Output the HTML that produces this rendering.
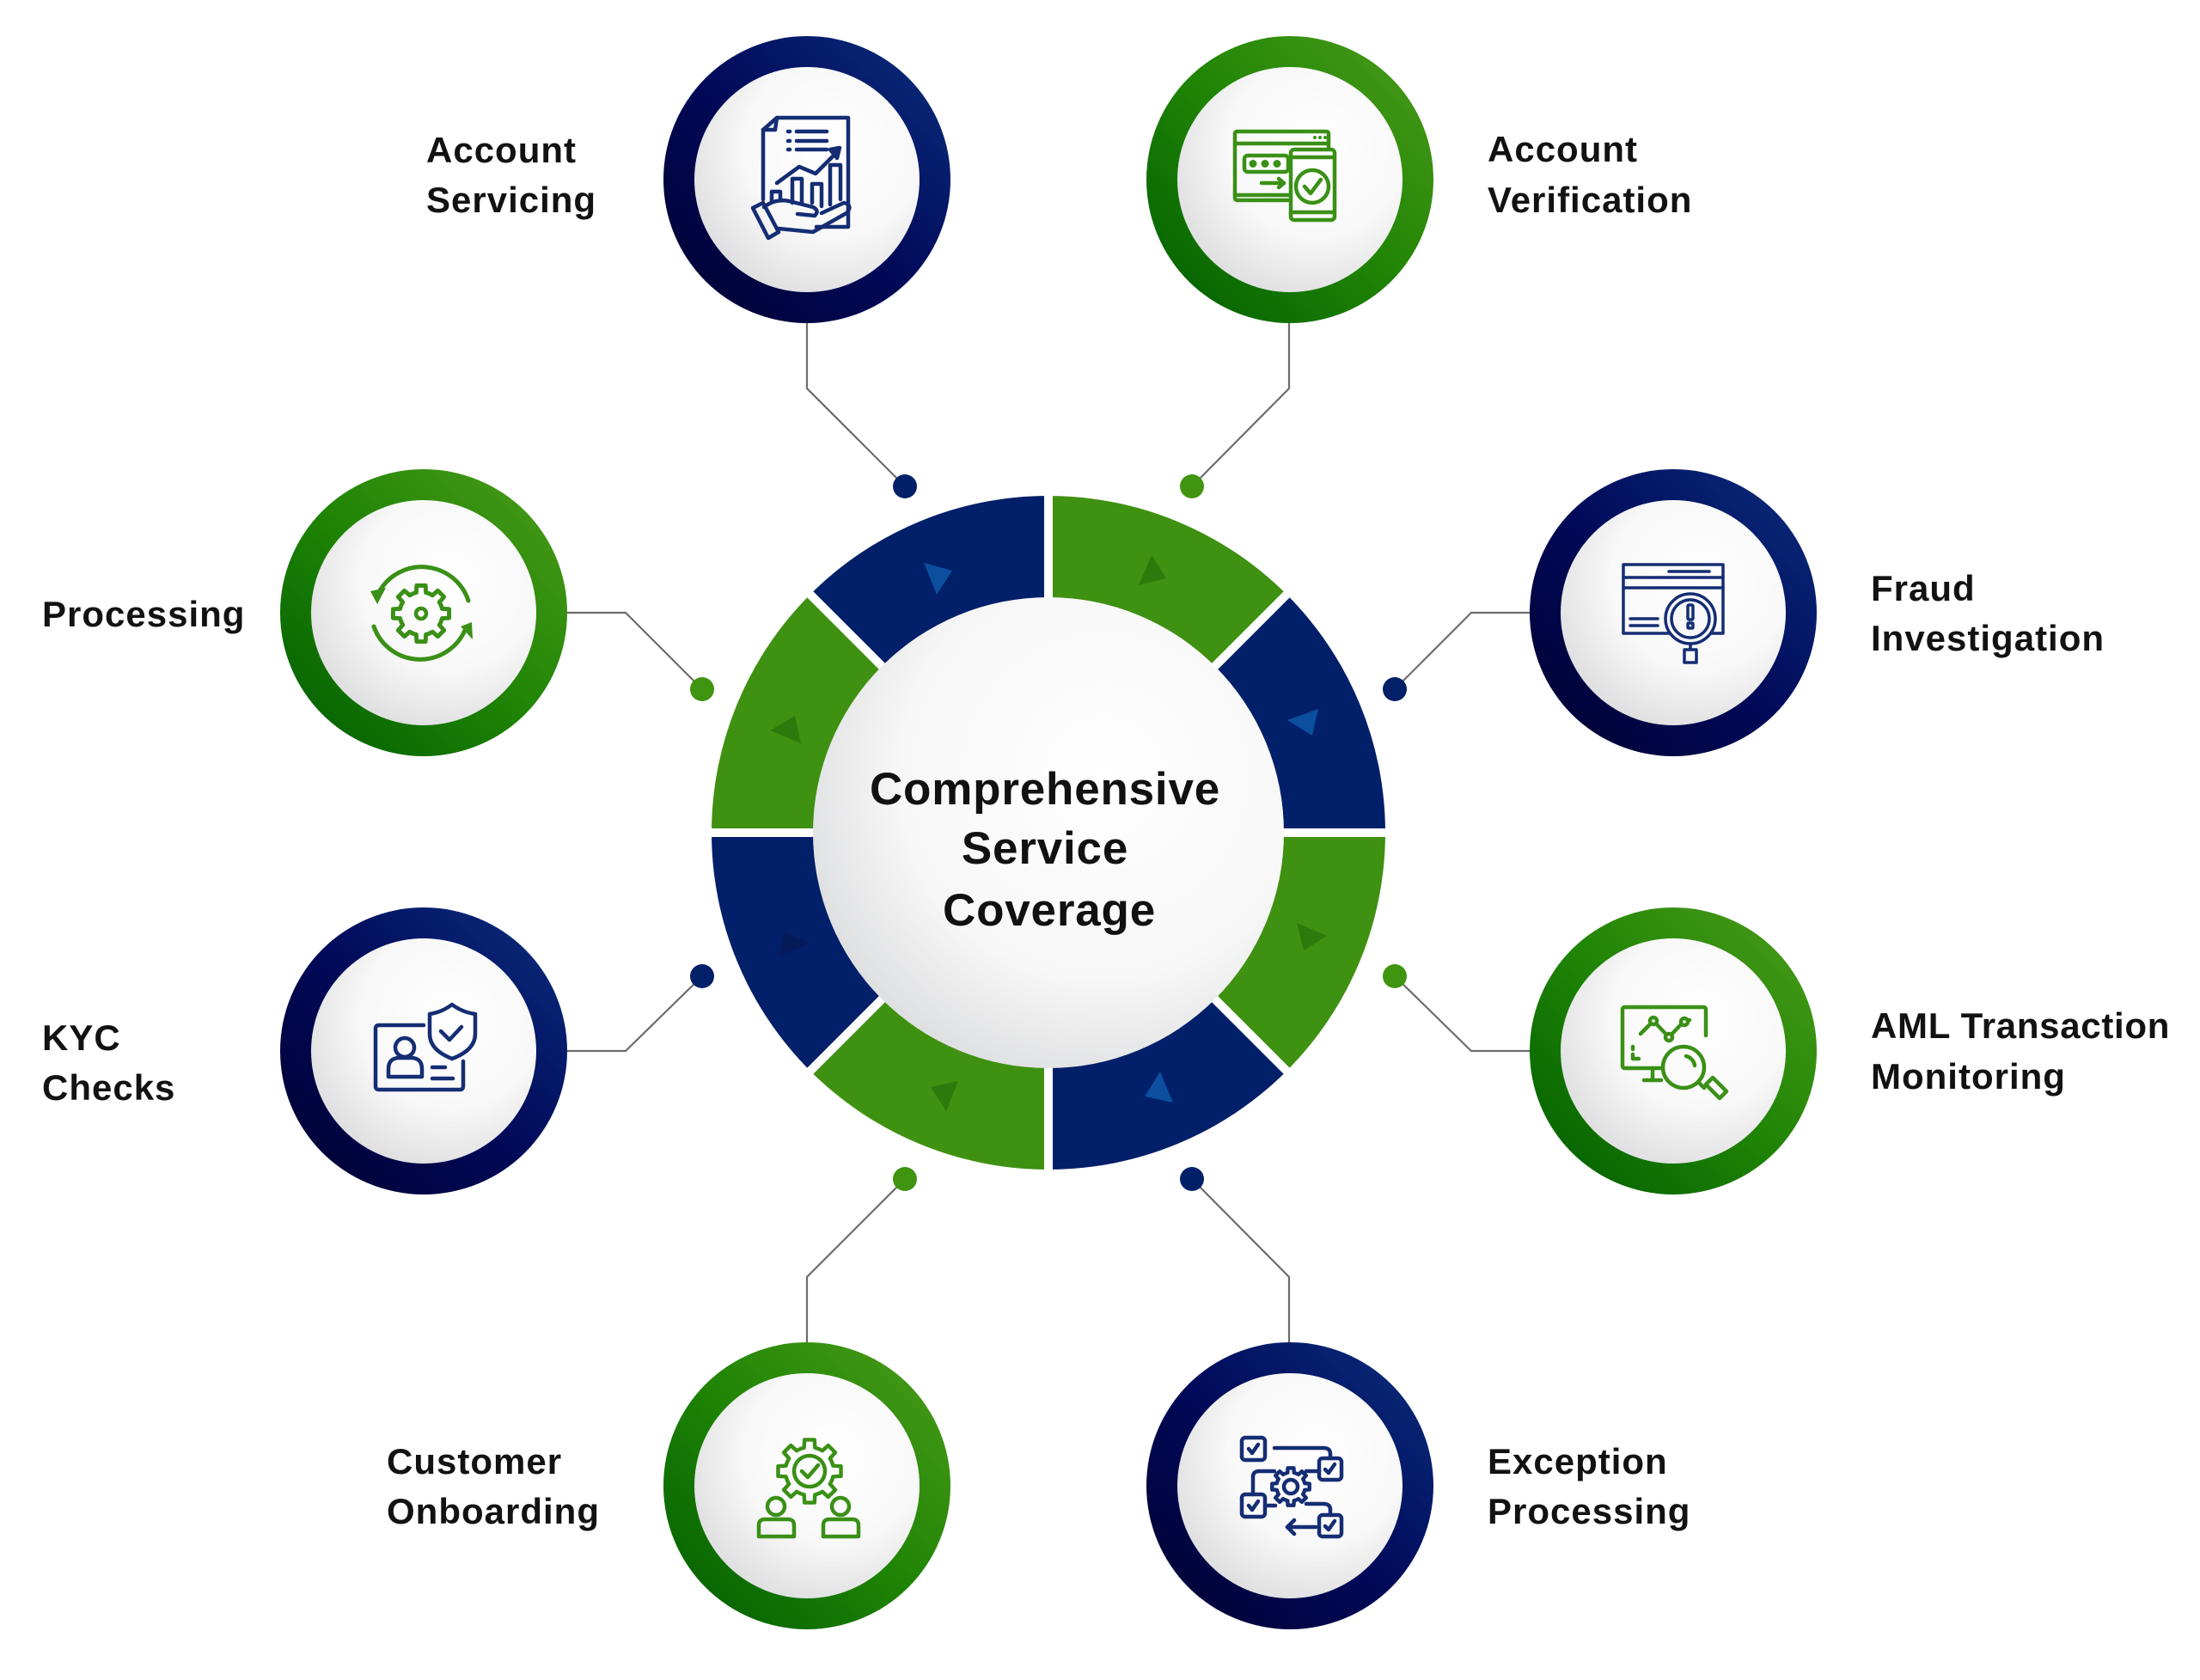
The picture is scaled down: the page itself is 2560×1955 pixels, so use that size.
<!DOCTYPE html>
<html>
<head>
<meta charset="utf-8">
<style>
  html, body { margin: 0; padding: 0; background: #ffffff; }
  body { width: 2560px; height: 1955px; overflow: hidden; }
  svg { display: block; }
  .lbl { font-family: "Liberation Sans", Arial, sans-serif; font-weight: 700; font-size: 42px; fill: #121212; letter-spacing: 1px; }
  .ctr { font-family: "Liberation Sans", Arial, sans-serif; font-weight: 700; font-size: 53px; fill: #111111; letter-spacing: 0.8px; }
</style>
</head>
<body>
<svg width="2560" height="1955" viewBox="0 0 2560 1955" xmlns="http://www.w3.org/2000/svg">
  <defs>
    <linearGradient id="navyRing" x1="0" y1="1" x2="1" y2="0">
      <stop offset="0" stop-color="#00002e"/>
      <stop offset="0.5" stop-color="#010a5a"/>
      <stop offset="1" stop-color="#0b2f7e"/>
    </linearGradient>
    <linearGradient id="greenRing" x1="0" y1="1" x2="1" y2="0">
      <stop offset="0" stop-color="#005c00"/>
      <stop offset="0.5" stop-color="#1f8405"/>
      <stop offset="1" stop-color="#4d9c1a"/>
    </linearGradient>
    <radialGradient id="disc" cx="0.62" cy="0.36" r="0.72">
      <stop offset="0" stop-color="#ffffff"/>
      <stop offset="0.55" stop-color="#f8f8f8"/>
      <stop offset="1" stop-color="#dcdcde"/>
    </radialGradient>
    <radialGradient id="bigDisc" cx="0.62" cy="0.38" r="0.72">
      <stop offset="0" stop-color="#ffffff"/>
      <stop offset="0.6" stop-color="#f7f7f7"/>
      <stop offset="1" stop-color="#d9dadc"/>
    </radialGradient>
  </defs>

  <!-- connectors -->
  <g fill="none" stroke="#6d6d6d" stroke-width="2.2">
    <polyline points="939,375 939,452 1053,566"/>
    <polyline points="1500,375 1500,452 1387,566"/>
    <polyline points="660,713 728,713 817,802"/>
    <polyline points="1780,713 1712,713 1623,802"/>
    <polyline points="660,1223 728,1223 817,1136"/>
    <polyline points="1780,1223 1712,1223 1623,1136"/>
    <polyline points="939,1563 939,1486 1053,1372"/>
    <polyline points="1500,1563 1500,1486 1387,1372"/>
  </g>
  <circle cx="1053" cy="566" r="14" fill="#022068"/>
  <circle cx="1387" cy="566" r="14" fill="#3f9410"/>
  <circle cx="817" cy="802" r="14" fill="#3f9410"/>
  <circle cx="1623" cy="802" r="14" fill="#022068"/>
  <circle cx="817" cy="1136" r="14" fill="#022068"/>
  <circle cx="1623" cy="1136" r="14" fill="#3f9410"/>
  <circle cx="1053" cy="1372" r="14" fill="#3f9410"/>
  <circle cx="1387" cy="1372" r="14" fill="#022068"/>

  <!-- central ring segments -->
  <g>
    <!-- top-right green -90..-45 -->
    <path d="M1220 577 A392 392 0 0 1 1497.19 691.81 L1412.33 776.67 A272 272 0 0 0 1220 697 Z" fill="#3f9111"/>
    <!-- right-upper navy -45..0 -->
    <path d="M1497.19 691.81 A392 392 0 0 1 1612 969 L1492 969 A272 272 0 0 0 1412.33 776.67 Z" fill="#021f69"/>
    <!-- right-lower green 0..45 -->
    <path d="M1612 969 A392 392 0 0 1 1497.19 1246.19 L1412.33 1161.33 A272 272 0 0 0 1492 969 Z" fill="#3f9111"/>
    <!-- bottom-right navy 45..90 -->
    <path d="M1497.19 1246.19 A392 392 0 0 1 1220 1361 L1220 1241 A272 272 0 0 0 1412.33 1161.33 Z" fill="#021f69"/>
    <!-- bottom-left green 90..135 -->
    <path d="M1220 1361 A392 392 0 0 1 942.81 1246.19 L1027.67 1161.33 A272 272 0 0 0 1220 1241 Z" fill="#3f9111"/>
    <!-- left-lower navy 135..180 -->
    <path d="M942.81 1246.19 A392 392 0 0 1 828 969 L948 969 A272 272 0 0 0 1027.67 1161.33 Z" fill="#021f69"/>
    <!-- left-upper green 180..225 -->
    <path d="M828 969 A392 392 0 0 1 942.81 691.81 L1027.67 776.67 A272 272 0 0 0 948 969 Z" fill="#3f9111"/>
    <!-- top-left navy 225..270 -->
    <path d="M942.81 691.81 A392 392 0 0 1 1220 577 L1220 697 A272 272 0 0 0 1027.67 776.67 Z" fill="#021f69"/>
  </g>
  <!-- white gaps -->
  <g stroke="#ffffff" stroke-width="10">
    <line x1="1220" y1="560" x2="1220" y2="1378"/>
    <line x1="810" y1="969" x2="1630" y2="969"/>
    <line x1="920" y1="669" x2="1520" y2="1269"/>
    <line x1="920" y1="1269" x2="1520" y2="669"/>
  </g>
  <!-- segment triangles -->
  <polygon points="1075,655 1108,664 1090,692" fill="#0b4f9e"/>
  <polygon points="1340,646 1357,673 1325,681" fill="#2d7a0c"/>
  <polygon points="1534,825 1527,856 1498,838" fill="#0b4f9e"/>
  <polygon points="1509,1074 1544,1089 1517,1106" fill="#2d7a0c"/>
  <polygon points="1350,1247 1365,1283 1332,1276" fill="#0b4f9e"/>
  <polygon points="1083,1265 1115,1258 1101,1293" fill="#2d7a0c"/>
  <polygon points="907,1112 913,1084 942,1098" fill="#061a58"/>
  <polygon points="896,850 925,833 932,865" fill="#2d7a0c"/>

  <!-- inner center disc -->
  <circle cx="1220" cy="969" r="274" fill="url(#bigDisc)"/>
  <text class="ctr" x="1216" y="936" text-anchor="middle">Comprehensive</text>
  <text class="ctr" x="1216" y="1005" text-anchor="middle">Service</text>
  <text class="ctr" x="1221" y="1077" text-anchor="middle">Coverage</text>

  <!-- satellite circles -->
  <circle cx="939" cy="209" r="167" fill="url(#navyRing)"/>
  <circle cx="939" cy="209" r="131" fill="url(#disc)"/>
  <circle cx="1501" cy="209" r="167" fill="url(#greenRing)"/>
  <circle cx="1501" cy="209" r="131" fill="url(#disc)"/>
  <circle cx="493" cy="713" r="167" fill="url(#greenRing)"/>
  <circle cx="493" cy="713" r="131" fill="url(#disc)"/>
  <circle cx="1947" cy="713" r="167" fill="url(#navyRing)"/>
  <circle cx="1947" cy="713" r="131" fill="url(#disc)"/>
  <circle cx="493" cy="1223" r="167" fill="url(#navyRing)"/>
  <circle cx="493" cy="1223" r="131" fill="url(#disc)"/>
  <circle cx="1947" cy="1223" r="167" fill="url(#greenRing)"/>
  <circle cx="1947" cy="1223" r="131" fill="url(#disc)"/>
  <circle cx="939" cy="1729" r="167" fill="url(#greenRing)"/>
  <circle cx="939" cy="1729" r="131" fill="url(#disc)"/>
  <circle cx="1501" cy="1729" r="167" fill="url(#navyRing)"/>
  <circle cx="1501" cy="1729" r="131" fill="url(#disc)"/>

  <!-- ICON: Account Servicing (navy) -->
  <g fill="none" stroke="#142d73" stroke-width="4.5" stroke-linecap="round" stroke-linejoin="round">
    <path d="M888 232 L888 151 L904 137 L987 137 L987 264 L950 264"/>
    <path d="M888 151 L902 151 L904 137"/>
    <line x1="917" y1="153" x2="919" y2="153"/>
    <line x1="917" y1="164" x2="919" y2="164"/>
    <line x1="917" y1="174" x2="919" y2="174"/>
    <line x1="927" y1="153" x2="962" y2="153"/>
    <line x1="927" y1="164" x2="962" y2="164"/>
    <line x1="927" y1="174" x2="962" y2="174"/>
    <path d="M898 233 L898 223 L908 223 L908 232"/>
    <path d="M922 236 L922 208 L933 208 L933 236"/>
    <path d="M945 236 L945 214 L956 214 L956 240"/>
    <path d="M966 238 L966 192 L978 192 L978 232"/>
    <polyline points="904,213 930,194 949,202 969,182"/>
    <polygon points="966,174 977,172 974,184" fill="#142d73"/>
    <polygon points="876,242 888,236 906,270 894,277"/>
    <path d="M889 241 Q902 231 918 234 L946 241 Q954 245 948 251 L928 249"/>
    <path d="M906 266 L946 270 L985 248 Q993 239 982 236 L956 248"/>
  </g>

  <!-- ICON: Account Verification (green) -->
  <g fill="none" stroke="#3a9016" stroke-width="4.5" stroke-linecap="round" stroke-linejoin="round">
    <path d="M1499 233 L1440 233 Q1437 233 1437 230 L1437 156 Q1437 153 1440 153 L1543 153 Q1546 153 1546 156 L1546 172"/>
    <line x1="1437" y1="167" x2="1546" y2="167"/>
    <line x1="1437" y1="227" x2="1499" y2="227"/>
    <rect x="1448" y="181" width="51" height="19" rx="4"/>
    <line x1="1468" y1="213" x2="1494" y2="213"/>
    <polyline points="1488,208 1494,213 1488,218"/>
    <rect x="1502" y="174" width="51" height="82" rx="4"/>
    <line x1="1502" y1="183" x2="1553" y2="183"/>
    <line x1="1502" y1="247" x2="1553" y2="247"/>
    <circle cx="1527" cy="217" r="19"/>
    <polyline points="1518,217 1525,225 1537,209"/>
  </g>
  <g fill="#3a9016">
    <circle cx="1458" cy="190.5" r="4.5"/>
    <circle cx="1472" cy="190.5" r="4.5"/>
    <circle cx="1486" cy="190.5" r="4.5"/>
    <circle cx="1530" cy="160" r="2"/>
    <circle cx="1536" cy="160" r="2"/>
    <circle cx="1542" cy="160" r="2"/>
  </g>

  <!-- ICON: Processing (green) -->
  <g fill="none" stroke="#3a9016" stroke-linecap="round" stroke-linejoin="round">
    <g transform="translate(490,714) scale(0.33)" stroke-width="15">
      <path d="M74.05 -17.10 L98.77 -15.64 L98.77 15.64 L74.05 17.10 A76 76 0 0 1 64.45 40.27 L80.90 58.78 L58.78 80.90 L40.27 64.45 A76 76 0 0 1 17.10 74.05 L15.64 98.77 L-15.64 98.77 L-17.10 74.05 A76 76 0 0 1 -40.27 64.45 L-58.78 80.90 L-80.90 58.78 L-64.45 40.27 A76 76 0 0 1 -74.05 17.10 L-98.77 15.64 L-98.77 -15.64 L-74.05 -17.10 A76 76 0 0 1 -64.45 -40.27 L-80.90 -58.78 L-58.78 -80.90 L-40.27 -64.45 A76 76 0 0 1 -17.10 -74.05 L-15.64 -98.77 L15.64 -98.77 L17.10 -74.05 A76 76 0 0 1 40.27 -64.45 L58.78 -80.90 L80.90 -58.78 L64.45 -40.27 A76 76 0 0 1 74.05 -17.10 Z"/>
    </g>
    <circle cx="490" cy="714" r="6" stroke-width="4.5"/>
    <path d="M441 689 A57 57 0 0 1 545 699" stroke-width="5"/>
    <path d="M435 729 A57 57 0 0 0 542 731" stroke-width="5"/>
  </g>
  <polygon points="431,688 449,684 439,703" fill="#3a9016"/>
  <polygon points="536,729 549,724 550,744" fill="#3a9016"/>

  <!-- ICON: Fraud Investigation (navy) -->
  <g fill="none" stroke="#142d73" stroke-width="3.5" stroke-linecap="round" stroke-linejoin="round">
    <rect x="1889" y="657" width="116" height="80"/>
    <line x1="1889" y1="672" x2="2005" y2="672"/>
    <line x1="1889" y1="684" x2="2005" y2="684"/>
    <line x1="1942" y1="665" x2="1989" y2="665"/>
    <line x1="1897" y1="720" x2="1929" y2="720"/>
    <line x1="1897" y1="728" x2="1929" y2="728"/>
    <circle cx="1967" cy="720" r="29" fill="#f8f8f8"/>
    <circle cx="1967" cy="720" r="22"/>
    <rect x="1964" y="704" width="6" height="17" rx="1.5"/>
    <rect x="1964" y="725" width="6" height="6" rx="1"/>
    <line x1="1967" y1="749" x2="1967" y2="756"/>
    <rect x="1960" y="756" width="14" height="15"/>
  </g>

  <!-- ICON: KYC (navy) -->
  <g fill="none" stroke="#142d73" stroke-width="4.5" stroke-linecap="round" stroke-linejoin="round">
    <path d="M493 1193 L441 1193 Q437 1193 437 1197 L437 1264 Q437 1268 441 1268 L535 1268 Q539 1268 539 1264 L539 1235"/>
    <circle cx="471" cy="1219" r="11"/>
    <path d="M452 1253 L452 1244 Q452 1231 465 1231 L478 1231 Q491 1231 491 1244 L491 1253 Z"/>
    <line x1="503" y1="1242" x2="518" y2="1242"/>
    <line x1="503" y1="1255" x2="527" y2="1255"/>
    <path d="M526 1169 Q538 1178 553 1180 L553 1203 Q553 1222 526 1232 Q500 1222 500 1203 L500 1180 Q514 1178 526 1169 Z"/>
    <polyline points="513,1200 523,1210 537,1195"/>
  </g>

  <!-- ICON: AML Transaction Monitoring (green) -->
  <g fill="none" stroke="#3a9016" stroke-width="4.5" stroke-linecap="round" stroke-linejoin="round">
    <path d="M1985 1205 L1985 1175 Q1985 1172 1982 1172 L1891 1172 Q1888 1172 1888 1175 L1888 1240 Q1888 1243 1891 1243 L1932 1243"/>
    <line x1="1923" y1="1243" x2="1923" y2="1257"/>
    <line x1="1913" y1="1257" x2="1933" y2="1257"/>
    <polyline points="1909,1203 1924,1188 1942,1207 1959,1189 1966,1187"/>
    <circle cx="1924" cy="1188" r="4" fill="#ffffff"/>
    <circle cx="1942" cy="1207" r="4" fill="#ffffff"/>
    <circle cx="1960" cy="1189" r="4" fill="#ffffff"/>
    <path d="M1900 1218 L1900 1221 M1900 1227 L1900 1232 L1907 1232"/>
    <circle cx="1959" cy="1242" r="24" fill="#fafafa"/>
    <path d="M1962 1229 A13 13 0 0 1 1972 1240"/>
    <line x1="1976" y1="1259" x2="1983" y2="1266"/>
    <polygon points="1985,1262 1993,1254 2009,1270 2001,1278"/>
  </g>

  <!-- ICON: Customer Onboarding (green) -->
  <g fill="none" stroke="#3a9016" stroke-linecap="round" stroke-linejoin="round">
    <g transform="translate(942,1712) scale(0.37)" stroke-width="12">
      <path d="M74.05 -17.10 L98.77 -15.64 L98.77 15.64 L74.05 17.10 A76 76 0 0 1 64.45 40.27 L80.90 58.78 L58.78 80.90 L40.27 64.45 A76 76 0 0 1 17.10 74.05 L15.64 98.77 L-15.64 98.77 L-17.10 74.05 A76 76 0 0 1 -40.27 64.45 L-58.78 80.90 L-80.90 58.78 L-64.45 40.27 A76 76 0 0 1 -74.05 17.10 L-98.77 15.64 L-98.77 -15.64 L-74.05 -17.10 A76 76 0 0 1 -64.45 -40.27 L-80.90 -58.78 L-58.78 -80.90 L-40.27 -64.45 A76 76 0 0 1 -17.10 -74.05 L-15.64 -98.77 L15.64 -98.77 L17.10 -74.05 A76 76 0 0 1 40.27 -64.45 L58.78 -80.90 L80.90 -58.78 L64.45 -40.27 A76 76 0 0 1 74.05 -17.10 Z"/>
    </g>
    <g stroke-width="4.5">
      <circle cx="942" cy="1712" r="18"/>
      <polyline points="933,1712 940,1719 952,1705"/>
      <circle cx="903" cy="1753" r="10"/>
      <path d="M883 1788 L883 1775 Q883 1768 890 1768 L917 1768 Q924 1768 924 1775 L924 1788 Z"/>
      <circle cx="978" cy="1753" r="10"/>
      <path d="M958 1788 L958 1775 Q958 1768 965 1768 L992 1768 Q999 1768 999 1775 L999 1788 Z"/>
    </g>
  </g>

  <!-- ICON: Exception Processing (navy) -->
  <g fill="none" stroke="#142d73" stroke-linecap="round" stroke-linejoin="round">
    <g transform="translate(1502,1730) scale(0.22)" stroke-width="20">
      <path d="M74.05 -17.10 L98.77 -15.64 L98.77 15.64 L74.05 17.10 A76 76 0 0 1 64.45 40.27 L80.90 58.78 L58.78 80.90 L40.27 64.45 A76 76 0 0 1 17.10 74.05 L15.64 98.77 L-15.64 98.77 L-17.10 74.05 A76 76 0 0 1 -40.27 64.45 L-58.78 80.90 L-80.90 58.78 L-64.45 40.27 A76 76 0 0 1 -74.05 17.10 L-98.77 15.64 L-98.77 -15.64 L-74.05 -17.10 A76 76 0 0 1 -64.45 -40.27 L-80.90 -58.78 L-58.78 -80.90 L-40.27 -64.45 A76 76 0 0 1 -17.10 -74.05 L-15.64 -98.77 L15.64 -98.77 L17.10 -74.05 A76 76 0 0 1 40.27 -64.45 L58.78 -80.90 L80.90 -58.78 L64.45 -40.27 A76 76 0 0 1 74.05 -17.10 Z"/>
    </g>
    <g stroke-width="4.5">
      <circle cx="1502" cy="1730" r="8"/>
      <rect x="1445" y="1673" width="27" height="26" rx="4"/>
      <rect x="1535" y="1697" width="26" height="25" rx="4"/>
      <rect x="1445" y="1739" width="27" height="26" rx="4"/>
      <rect x="1535" y="1763" width="26" height="25" rx="4"/>
      <polyline points="1453,1686 1457,1691 1464,1681"/>
      <polyline points="1542,1710 1546,1714 1553,1704"/>
      <polyline points="1453,1752 1457,1757 1464,1747"/>
      <polyline points="1542,1776 1546,1780 1553,1770"/>
      <path d="M1483 1685 L1540 1685 Q1548 1685 1548 1692 L1548 1697"/>
      <path d="M1458 1739 L1458 1719 Q1458 1712 1465 1712 L1483 1712"/>
      <line x1="1520" y1="1712" x2="1535" y2="1712"/>
      <line x1="1472" y1="1752" x2="1484" y2="1752"/>
      <path d="M1520 1750 L1540 1750 Q1548 1750 1548 1757 L1548 1763"/>
      <line x1="1531" y1="1777" x2="1498" y2="1777"/>
      <polyline points="1506,1769 1498,1777 1506,1785"/>
    </g>
  </g>

  <!-- labels -->
  <text class="lbl" x="496" y="189">Account</text>
  <text class="lbl" x="496" y="247">Servicing</text>
  <text class="lbl" x="1731" y="188">Account</text>
  <text class="lbl" x="1731" y="247">Verification</text>
  <text class="lbl" x="49" y="729">Processing</text>
  <text class="lbl" x="2177" y="699">Fraud</text>
  <text class="lbl" x="2177" y="757">Investigation</text>
  <text class="lbl" x="49" y="1222">KYC</text>
  <text class="lbl" x="49" y="1280">Checks</text>
  <text class="lbl" x="2177" y="1208" style="letter-spacing:0.7px">AML Transaction</text>
  <text class="lbl" x="2177" y="1267">Monitoring</text>
  <text class="lbl" x="450" y="1715">Customer</text>
  <text class="lbl" x="450" y="1773">Onboarding</text>
  <text class="lbl" x="1731" y="1715">Exception</text>
  <text class="lbl" x="1731" y="1773">Processing</text>
</svg>
</body>
</html>
